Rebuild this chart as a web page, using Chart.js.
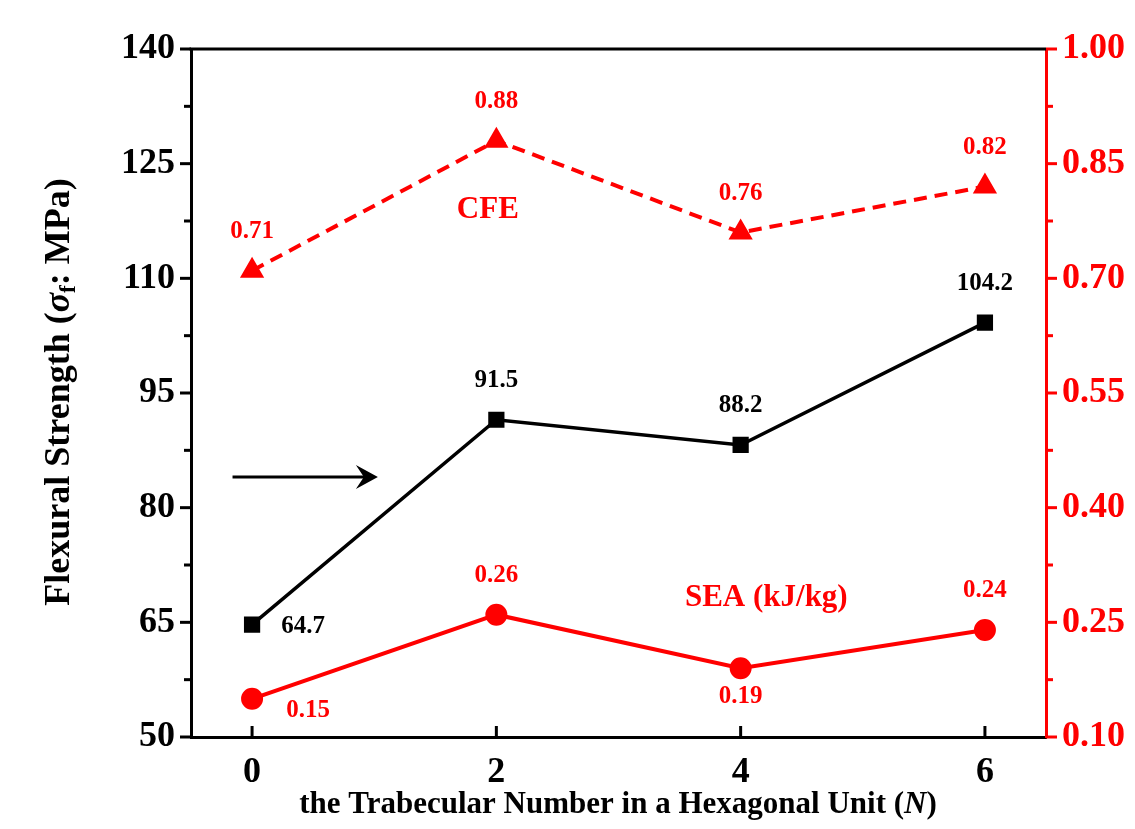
<!DOCTYPE html>
<html>
<head>
<meta charset="utf-8">
<script src="https://cdn.jsdelivr.net/npm/chart.js@4.4.1/dist/chart.umd.min.js"></script>
<style>
  html, body { margin: 0; padding: 0; background: #fff; }
  #wrap { width: 1135px; height: 829px; }
</style>
</head>
<body>
<div id="wrap"><canvas id="chart" width="1135" height="829"></canvas></div>
<script>
const trabecular = [0, 2, 4, 6];
const flexural = [64.7, 91.5, 88.2, 104.2];
const cfe = [0.71, 0.88, 0.76, 0.82];
const sea = [0.15, 0.26, 0.19, 0.24];
const leftTicks = [50, 65, 80, 95, 110, 125, 140];
const rightTicks = [0.10, 0.25, 0.40, 0.55, 0.70, 0.85, 1.00];
const xTicks = [0, 2, 4, 6];

const RED = '#ff0000';
const FONT = '"Liberation Serif", "Times New Roman", serif';

const pts = (ys) => trabecular.map((x, i) => ({ x: x, y: ys[i] }));

// where each value label sits relative to its marker
const labelPlace = {
  flex: ['right', 'above', 'above', 'above'],
  cfe: ['above', 'above', 'above', 'above'],
  sea: ['rightBelow', 'above', 'below', 'above']
};
const placeOffset = {
  above: [0, -39],
  below: [0, 28],
  right: [51, 2],
  rightBelow: [56, 12]
};

const extras = {
  id: 'extras',
  afterDraw(c) {
    const ctx = c.ctx;
    const xs = c.scales.x, yl = c.scales.y, yr = c.scales.y1;
    const a = c.chartArea;
    ctx.save();

    // top frame line
    ctx.strokeStyle = '#000';
    ctx.lineWidth = 3;
    ctx.beginPath();
    ctx.moveTo(a.left - 1.5, a.top);
    ctx.lineTo(a.right, a.top);
    ctx.stroke();

    // left ticks (outward), major + minor
    for (let v = 50; v <= 140; v += 7.5) {
      const y = yl.getPixelForValue(v);
      const len = (v % 15 === 5) ? 11 : 7;
      ctx.beginPath();
      ctx.moveTo(a.left, y);
      ctx.lineTo(a.left - len, y);
      ctx.stroke();
    }
    // bottom ticks (inward)
    xTicks.forEach(v => {
      const x = xs.getPixelForValue(v);
      ctx.beginPath();
      ctx.moveTo(x, a.bottom);
      ctx.lineTo(x, a.bottom - 11);
      ctx.stroke();
    });
    // right ticks (outward, red)
    ctx.strokeStyle = RED;
    for (let i = 0; i <= 12; i++) {
      const v = 0.10 + i * 0.075;
      const y = yr.getPixelForValue(v);
      const len = (i % 2 === 0) ? 11 : 7;
      ctx.beginPath();
      ctx.moveTo(a.right, y);
      ctx.lineTo(a.right + len, y);
      ctx.stroke();
    }

    // arrow
    const ay = yl.getPixelForValue(84);
    const ax0 = xs.getPixelForValue(-0.16), ax1 = xs.getPixelForValue(1.03);
    ctx.strokeStyle = '#000';
    ctx.fillStyle = '#000';
    ctx.lineWidth = 3;
    ctx.beginPath();
    ctx.moveTo(ax0, ay);
    ctx.lineTo(ax1 - 8, ay);
    ctx.stroke();
    ctx.beginPath();
    ctx.moveTo(ax1, ay);
    ctx.lineTo(ax1 - 22, ay - 12);
    ctx.lineTo(ax1 - 14, ay);
    ctx.lineTo(ax1 - 22, ay + 12);
    ctx.closePath();
    ctx.fill();

    // value labels
    ctx.textAlign = 'center';
    ctx.textBaseline = 'middle';
    const drawLabels = (vals, scale, place, color, fmt) => {
      ctx.fillStyle = color;
      ctx.font = 'bold 25px ' + FONT;
      vals.forEach((v, i) => {
        const px = xs.getPixelForValue(trabecular[i]);
        const py = scale.getPixelForValue(v);
        const off = placeOffset[place[i]];
        ctx.fillText(fmt(v), px + off[0], py + off[1]);
      });
    };
    drawLabels(flexural, yl, labelPlace.flex, '#000', v => v.toFixed(1));
    drawLabels(cfe, yr, labelPlace.cfe, RED, v => v.toFixed(2));
    drawLabels(sea, yr, labelPlace.sea, RED, v => v.toFixed(2));

    // series names
    ctx.font = 'bold 31px ' + FONT;
    ctx.fillStyle = RED;
    ctx.fillText('CFE', xs.getPixelForValue(1.93), yl.getPixelForValue(118.9));
    ctx.fillText('SEA (kJ/kg)', xs.getPixelForValue(4.21), yl.getPixelForValue(68.2));

    // x axis title with italic N
    ctx.fillStyle = '#000';
    const xParts = [
      ['bold 31px ' + FONT, 'the Trabecular Number in a Hexagonal Unit ('],
      ['italic bold 31px ' + FONT, 'N'],
      ['bold 31px ' + FONT, ')']
    ];
    let tw = 0;
    xParts.forEach(p => { ctx.font = p[0]; tw += ctx.measureText(p[1]).width; });
    let tx = 618 - tw / 2;
    ctx.textAlign = 'left';
    xParts.forEach(p => { ctx.font = p[0]; ctx.fillText(p[1], tx, 805); tx += ctx.measureText(p[1]).width; });

    // y axis title with sigma_f
    ctx.translate(60, 392);
    ctx.rotate(-Math.PI / 2);
    const yParts = [
      ['bold 36px ' + FONT, 'Flexural Strength (', 0],
      ['italic bold 36px ' + FONT, 'σ', 0],
      ['bold 23px ' + FONT, 'f', 9],
      ['bold 36px ' + FONT, ': MPa)', 0]
    ];
    tw = 0;
    yParts.forEach(p => { ctx.font = p[0]; tw += ctx.measureText(p[1]).width; });
    tx = -tw / 2;
    yParts.forEach(p => { ctx.font = p[0]; ctx.fillText(p[1], tx, p[2]); tx += ctx.measureText(p[1]).width; });

    ctx.restore();
  }
};

new Chart(document.getElementById('chart').getContext('2d'), {
  type: 'line',
  data: {
    datasets: [
      {
        label: 'Flexural Strength',
        data: pts(flexural),
        yAxisID: 'y',
        borderColor: '#000',
        backgroundColor: '#000',
        borderWidth: 3.5,
        pointStyle: 'rect',
        pointRadius: 9,
        pointHoverRadius: 9,
        tension: 0
      },
      {
        label: 'CFE',
        data: pts(cfe),
        yAxisID: 'y1',
        borderColor: RED,
        backgroundColor: RED,
        borderWidth: 4,
        borderDash: [13, 8],
        pointStyle: 'triangle',
        pointRadius: 10,
        pointHoverRadius: 10,
        tension: 0
      },
      {
        label: 'SEA',
        data: pts(sea),
        yAxisID: 'y1',
        borderColor: RED,
        backgroundColor: RED,
        borderWidth: 4,
        pointStyle: 'circle',
        pointRadius: 9,
        pointHoverRadius: 9,
        tension: 0
      }
    ]
  },
  options: {
    responsive: false,
    animation: false,
    layout: { padding: { top: 49, left: 0, right: 0, bottom: 0 } },
    plugins: { legend: { display: false }, tooltip: { enabled: false } },
    scales: {
      x: {
        type: 'linear',
        min: -0.5,
        max: 6.5,
        afterBuildTicks: s => { s.ticks = xTicks.map(v => ({ value: v })); },
        afterFit: s => { s.height = 92; },
        grid: { display: false, drawTicks: false },
        border: { display: true, color: '#000', width: 3 },
        ticks: {
          color: '#000',
          padding: 14,
          font: { family: FONT, size: 36, weight: 'bold' }
        }
      },
      y: {
        position: 'left',
        min: 50,
        max: 140,
        afterBuildTicks: s => { s.ticks = leftTicks.map(v => ({ value: v })); },
        afterFit: s => { s.width = 191; },
        grid: { display: false, drawTicks: false },
        border: { display: true, color: '#000', width: 3 },
        ticks: {
          color: '#000',
          padding: 16,
          font: { family: FONT, size: 36, weight: 'bold' }
        }
      },
      y1: {
        position: 'right',
        min: 0.10,
        max: 1.00,
        afterBuildTicks: s => { s.ticks = rightTicks.map(v => ({ value: v })); },
        afterFit: s => { s.width = 89; },
        grid: { display: false, drawTicks: false },
        border: { display: true, color: RED, width: 3 },
        ticks: {
          color: RED,
          padding: 16,
          font: { family: FONT, size: 36, weight: 'bold' },
          callback: v => v.toFixed(2)
        }
      }
    }
  },
  plugins: [extras]
});
</script>
</body>
</html>
